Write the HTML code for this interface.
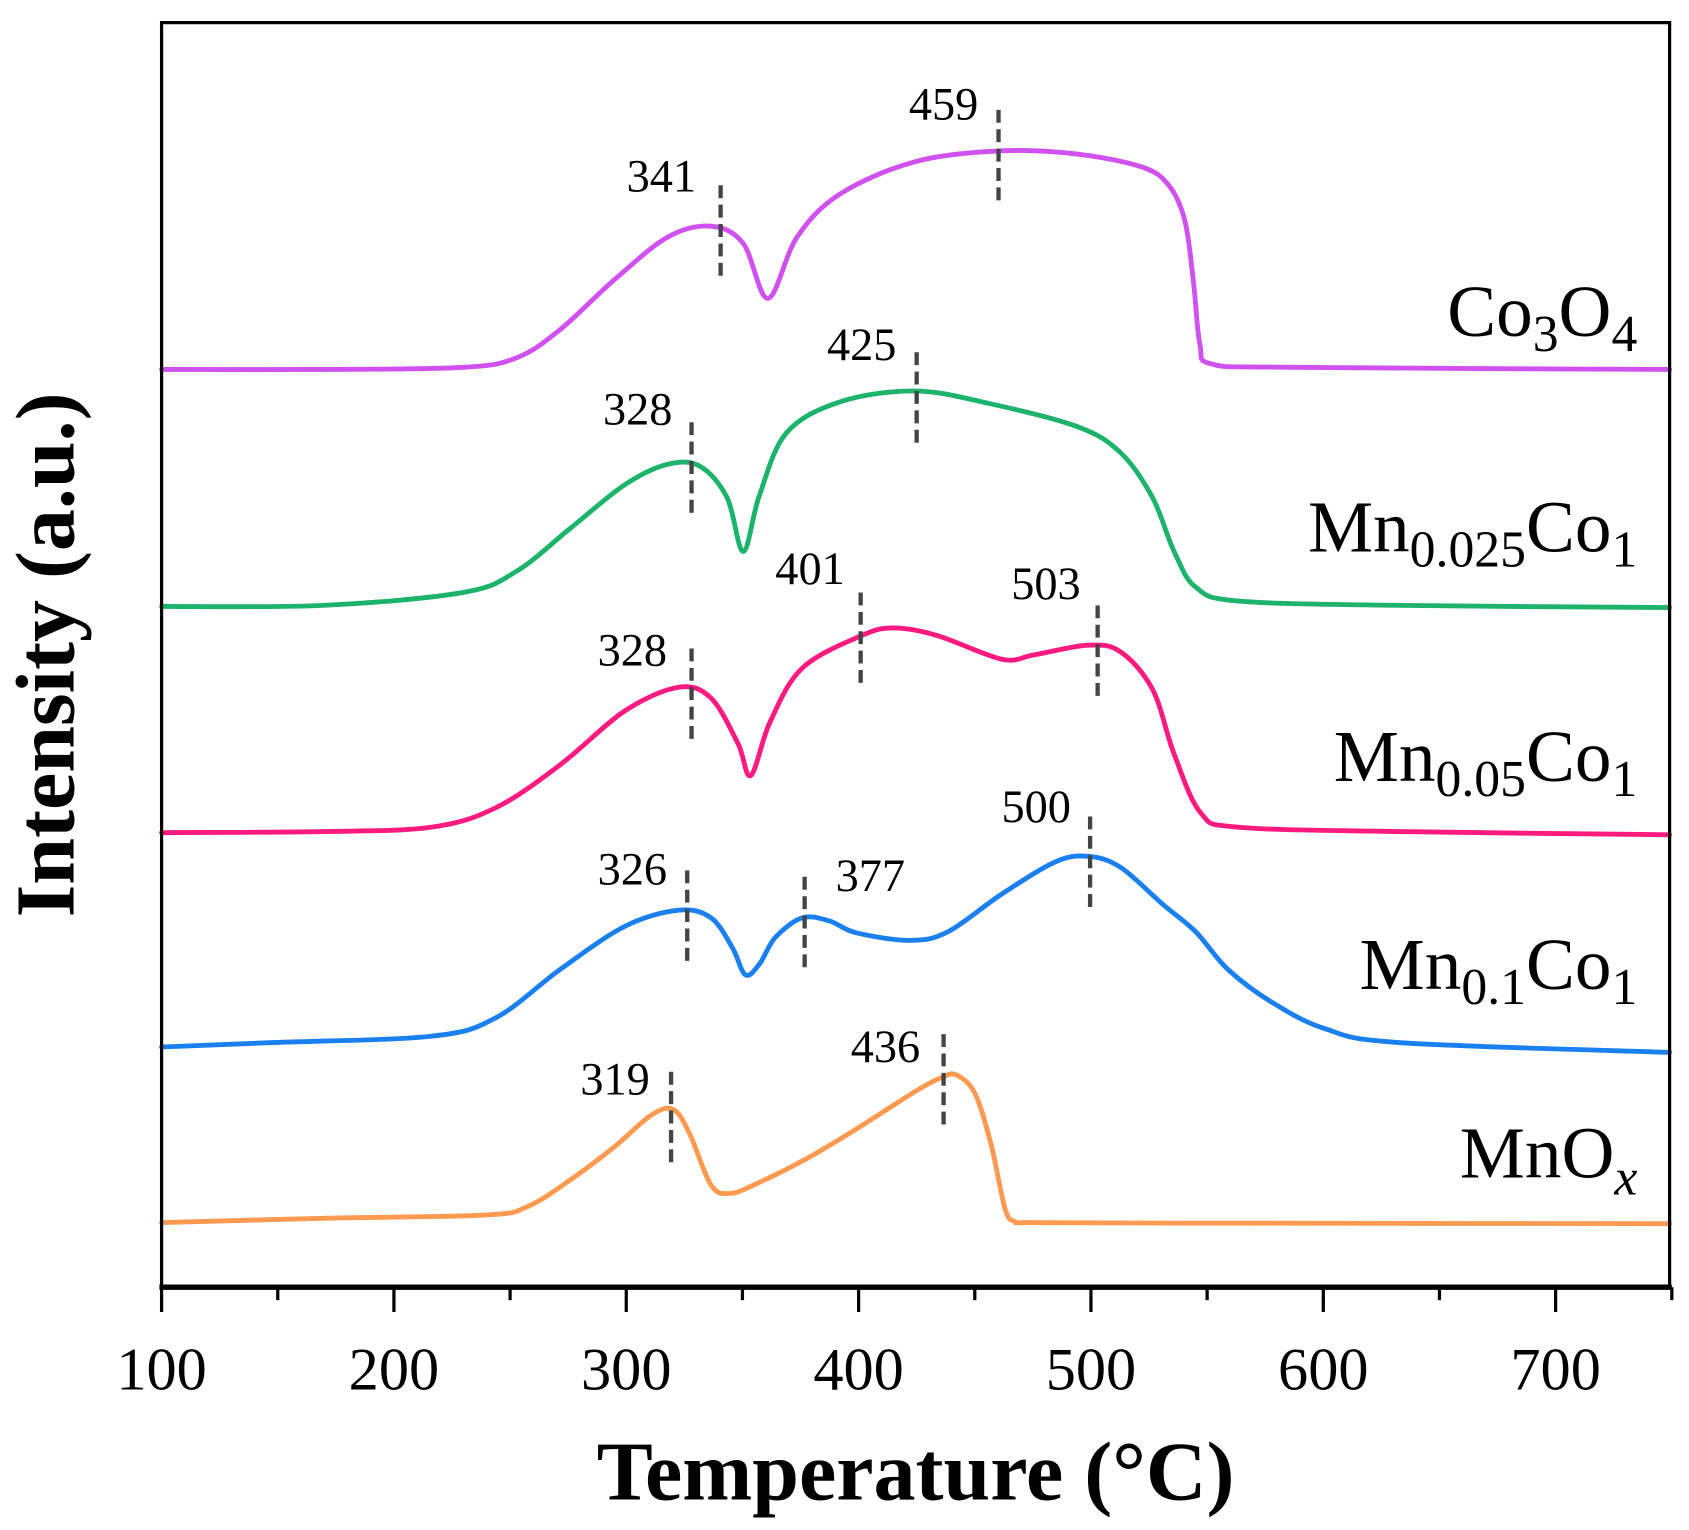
<!DOCTYPE html>
<html><head><meta charset="utf-8"><style>html,body{margin:0;padding:0;background:#fff}svg{display:block}</style></head>
<body>
<svg id="s" width="1689" height="1530" viewBox="0 0 1568 1420.4" xmlns="http://www.w3.org/2000/svg" font-family="'Liberation Serif',serif">
<rect width="1568" height="1421" fill="#fff"/>
<g id="curves" fill="none" stroke-width="4.5" stroke-linejoin="round" stroke-linecap="round"></g>
<g id="marks" stroke="#444" stroke-width="4" stroke-dasharray="12,6"></g>
<g font-size="43" text-anchor="middle" fill="#000">
<text x="614" y="178">341</text><text x="876" y="111">459</text>
<text x="800" y="334">425</text><text x="592" y="394">328</text>
<text x="752" y="542">401</text><text x="587" y="618">328</text>
<text x="971" y="556">503</text><text x="962" y="763">500</text>
<text x="587" y="821">326</text><text x="808" y="827">377</text>
<text x="822" y="986">436</text><text x="571" y="1016">319</text>
</g>
<g font-size="68" text-anchor="end" fill="#000">
<text x="1520" y="312">Co<tspan font-size="48" dy="14">3</tspan><tspan dy="-14">O</tspan><tspan font-size="48" dy="14">4</tspan></text>
<text x="1520" y="512">Mn<tspan font-size="48" dy="14">0.025</tspan><tspan dy="-14">Co</tspan><tspan font-size="48" dy="14">1</tspan></text>
<text x="1520" y="725">Mn<tspan font-size="48" dy="14">0.05</tspan><tspan dy="-14">Co</tspan><tspan font-size="48" dy="14">1</tspan></text>
<text x="1520" y="918">Mn<tspan font-size="48" dy="14">0.1</tspan><tspan dy="-14">Co</tspan><tspan font-size="48" dy="14">1</tspan></text>
<text x="1520" y="1093">MnO<tspan font-size="48" font-style="italic" dy="16">x</tspan></text>
</g>
<rect x="150" y="21" width="1400" height="1174" fill="none" stroke="#000" stroke-width="3"/>
<line x1="148" y1="1195" x2="1552" y2="1195" stroke="#000" stroke-width="5"/>
<g id="ticks" stroke="#000" stroke-width="3"></g>
<g font-size="56" text-anchor="middle" fill="#000" id="tl"></g>
<text x="850" y="1392" font-size="78" font-weight="bold" text-anchor="middle">Temperature (°C)</text>
<text transform="translate(68,608) rotate(-90)" font-size="78" font-weight="bold" text-anchor="middle">Intensity (a.u.)</text>
</svg>
<script>
const NS="http://www.w3.org/2000/svg";
function cr(p){let d="M"+p[0][0]+","+p[0][1];for(let i=0;i<p.length-1;i++){const a=p[i-1]||p[i],b=p[i],c=p[i+1],e=p[i+2]||c;
d+=" C"+(b[0]+(c[0]-a[0])/6).toFixed(1)+","+(b[1]+(c[1]-a[1])/6).toFixed(1)+" "+(c[0]-(e[0]-b[0])/6).toFixed(1)+","+(c[1]-(e[1]-b[1])/6).toFixed(1)+" "+c[0]+","+c[1];}return d;}
const S=[
["#d050f0",[[150,343],[300,343],[430,341],[480,332],[520,306],[570,260],[620,220],[660,210],[690,226],[713,277],[740,220],[780,180],[850,150],[930,140],[1000,143],[1060,155],[1085,172],[1100,205],[1108,262],[1114,320],[1125,338],[1200,341],[1550,343]]],
["#1db36b",[[150,563],[300,562],[430,550],[480,530],[530,490],[580,450],[620,431],[650,433],[675,462],[690,512],[705,460],[730,402],[780,373],[850,363],[920,375],[1000,396],[1040,420],[1070,462],[1090,512],[1110,545],[1150,558],[1300,562],[1550,564]]],
["#ff1a80",[[150,773],[300,772],[400,768],[460,750],[520,710],[580,660],[630,638],[660,648],[685,690],[697,720],[715,670],[745,620],[800,590],[830,583],[870,590],[930,612],[960,608],[1010,599],[1040,605],[1070,640],[1090,700],[1115,755],[1150,768],[1300,772],[1550,775]]],
["#1a80f0",[[150,972],[250,968],[400,962],[460,945],[520,900],[580,860],[630,845],[660,852],[680,880],[692,905],[705,895],[720,870],[745,852],[770,855],[795,866],[845,873],[880,865],[930,830],[980,800],[1010,795],[1040,805],[1080,840],[1110,865],[1140,900],[1180,930],[1230,955],[1300,968],[1550,977]]],
["#ff9a50",[[150,1135],[300,1131],[450,1128],[490,1120],[530,1095],[570,1065],[605,1035],[625,1030],[640,1052],[660,1100],[677,1108],[700,1100],[750,1075],[800,1045],[850,1013],[875,1000],[888,998],[905,1015],[920,1062],[933,1122],[942,1134],[960,1135],[1100,1135.5],[1550,1136]]]];
const cg=document.getElementById("curves");
S.forEach(([c,p])=>{const e=document.createElementNS(NS,"path");e.setAttribute("d",cr(p));e.setAttribute("stroke",c);cg.appendChild(e);});
const M=[[669,172,260],[927,102,188],[642,392,478],[851,327,412],[642,602,688],[799,550,637],[1019,562,648],[638,808,895],[747,814,900],[1012,758,845],[623,995,1080],[876,960,1046]];
const mg=document.getElementById("marks");
M.forEach(([x,a,b])=>{const l=document.createElementNS(NS,"line");l.setAttribute("x1",x);l.setAttribute("x2",x);l.setAttribute("y1",a);l.setAttribute("y2",b);mg.appendChild(l);});
const tg=document.getElementById("ticks"),tl=document.getElementById("tl");
for(let v=100;v<=750;v+=50){const x=150+(v-100)*2.157;const l=document.createElementNS(NS,"line");
l.setAttribute("x1",x);l.setAttribute("x2",x);l.setAttribute("y1",1195);l.setAttribute("y2",v%100?1207:1218);tg.appendChild(l);
if(v%100==0&&v<=700){const t=document.createElementNS(NS,"text");t.setAttribute("x",x);t.setAttribute("y",1290);t.textContent=v;tl.appendChild(t);}}
</script>
</body></html>
